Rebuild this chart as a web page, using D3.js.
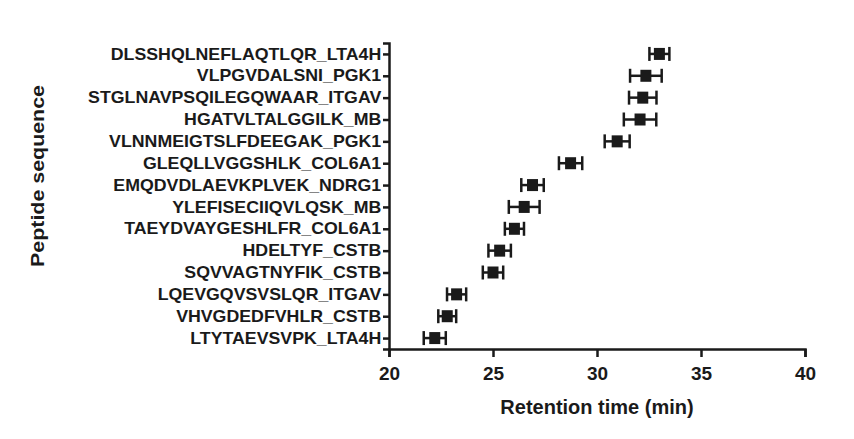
<!DOCTYPE html>
<html>
<head>
<meta charset="utf-8">
<script src="https://cdn.jsdelivr.net/npm/d3@7"></script>
<style>
  body { margin: 0; background: #fff; }
  text { font-family: "Liberation Sans", Arial, sans-serif; font-weight: bold; fill: #1a1a1a; }
</style>
</head>
<body>
<div id="wrapper"></div>
<script>
// peptides, top to bottom
const peptides = [
  "DLSSHQLNEFLAQTLQR_LTA4H",
  "VLPGVDALSNI_PGK1",
  "STGLNAVPSQILEGQWAAR_ITGAV",
  "HGATVLTALGGILK_MB",
  "VLNNMEIGTSLFDEEGAK_PGK1",
  "GLEQLLVGGSHLK_COL6A1",
  "EMQDVDLAEVKPLVEK_NDRG1",
  "YLEFISECIIQVLQSK_MB",
  "TAEYDVAYGESHLFR_COL6A1",
  "HDELTYF_CSTB",
  "SQVVAGTNYFIK_CSTB",
  "LQEVGQVSVSLQR_ITGAV",
  "VHVGDEDFVHLR_CSTB",
  "LTYTAEVSVPK_LTA4H"
]
const meanRT = [33.0, 32.35, 32.2, 32.07, 30.97, 28.73, 26.9, 26.5, 26.03, 25.32, 25.0, 23.25, 22.8, 22.2]
const errRT = [0.48, 0.76, 0.66, 0.78, 0.6, 0.56, 0.54, 0.74, 0.46, 0.54, 0.49, 0.46, 0.43, 0.53]
const xTicks = [20, 25, 30, 35, 40]

const dataset = peptides.map((p, i) => ({ name: p, mean: meanRT[i], err: errRT[i] }))

const dimensions = {
  width: 854,
  height: 439,
  margin: { top: 43, right: 49, bottom: 90, left: 389 }
}
dimensions.boundedWidth = dimensions.width - dimensions.margin.left - dimensions.margin.right
dimensions.boundedHeight = dimensions.height - dimensions.margin.top - dimensions.margin.bottom

const wrapper = d3.select("#wrapper")
  .append("svg")
    .attr("width", dimensions.width)
    .attr("height", dimensions.height)

const bounds = wrapper.append("g")
    .attr("transform", `translate(${dimensions.margin.left},${dimensions.margin.top})`)

const xScale = d3.scaleLinear()
  .domain([20, 40])
  .range([0, 416])

const yScale = d3.scalePoint()
  .domain(peptides)
  .range([0, dimensions.boundedHeight])
  .padding(0.5)

// error bars
const rows = bounds.selectAll(".row")
  .data(dataset)
  .join("g")
    .attr("class", "row")
    .attr("transform", d => `translate(0,${yScale(d.name)})`)

rows.append("line")
    .attr("x1", d => xScale(d.mean - d.err))
    .attr("x2", d => xScale(d.mean + d.err))
    .attr("stroke", "#1a1a1a")
    .attr("stroke-width", 2.5)

rows.selectAll(".cap")
  .data(d => [d.mean - d.err, d.mean + d.err])
  .join("line")
    .attr("class", "cap")
    .attr("x1", v => xScale(v))
    .attr("x2", v => xScale(v))
    .attr("y1", -7)
    .attr("y2", 7)
    .attr("stroke", "#1a1a1a")
    .attr("stroke-width", 2.5)

rows.append("rect")
    .attr("x", d => xScale(d.mean) - 5.5)
    .attr("y", -6)
    .attr("width", 11)
    .attr("height", 12)
    .attr("fill", "#1a1a1a")

// axes
const xAxis = bounds.append("g")
    .attr("transform", `translate(0,${dimensions.boundedHeight})`)
    .call(d3.axisBottom(xScale).tickValues(xTicks).tickSize(8).tickPadding(10))

xAxis.selectAll("text").style("font-size", "19px")

const yAxis = bounds.append("g")
    .call(d3.axisLeft(yScale).tickSize(6).tickPadding(1))

// labels in the original are a little wider than the font
yAxis.selectAll("text")
    .style("font-size", "16px")
    .attr("transform", "scale(1.11,1)")

bounds.selectAll(".domain, .tick line")
    .attr("stroke", "#1a1a1a")
    .attr("stroke-width", 2.5)
bounds.selectAll(".tick text").attr("fill", "#1a1a1a")

// titles
wrapper.append("text")
    .attr("x", dimensions.margin.left + xScale(30))
    .attr("y", 414)
    .attr("text-anchor", "middle")
    .style("font-size", "20px")
    .text("Retention time (min)")

wrapper.append("text")
    .attr("transform", "translate(44,176) rotate(-90)")
    .attr("text-anchor", "middle")
    .attr("textLength", 182)
    .attr("lengthAdjust", "spacingAndGlyphs")
    .style("font-size", "18.5px")
    .text("Peptide sequence")
</script>
</body>
</html>
